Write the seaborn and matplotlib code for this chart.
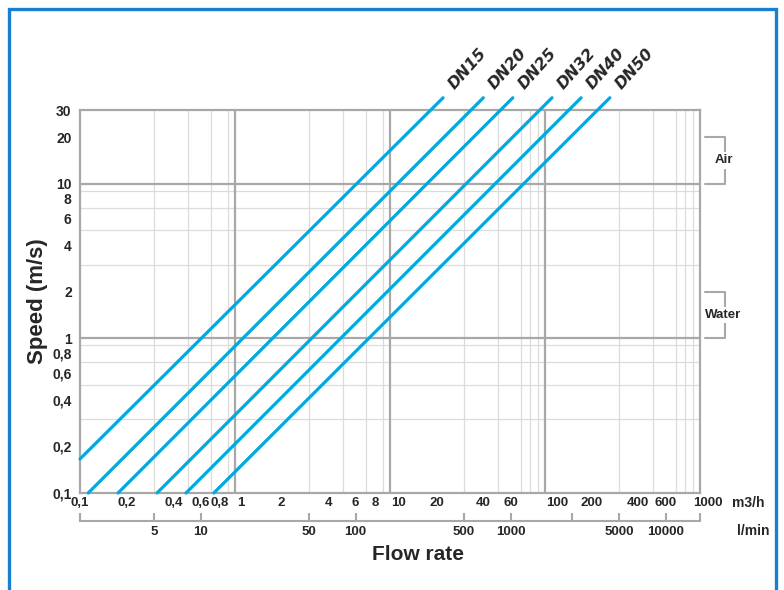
import numpy as np
import pandas as pd
import seaborn as sns
import matplotlib.pyplot as plt
import matplotlib.transforms as mtransforms
from matplotlib.ticker import LogLocator, NullFormatter, NullLocator
from matplotlib.patches import Rectangle

# pipe lines (start at left/bottom edge, end above the frame)
pipes = ['DN15', 'DN20', 'DN25', 'DN32', 'DN40', 'DN50']
flow_start = [0.1, 0.113, 0.176, 0.314, 0.483, 0.73]
flow_end = [22, 40, 62, 111, 171, 262]
speed_start = [0.166, 0.1, 0.1, 0.1, 0.1, 0.1]
speed_end = [36, 36, 36, 36, 36, 36]

x_ticks = [0.1, 0.2, 0.4, 0.6, 0.8, 1, 2, 4, 6, 8, 10, 20, 40, 60, 100, 200, 400, 600, 1000]
x_labels = ['0,1', '0,2', '0,4', '0,6', '0,8', '1', '2', '4', '6', '8', '10', '20', '40', '60',
            '100', '200', '400', '600', '1000']
y_ticks = [0.1, 0.2, 0.4, 0.6, 0.8, 1, 2, 4, 6, 8, 10, 20, 30]
y_labels = ['0,1', '0,2', '0,4', '0,6', '0,8', '1', '2', '4', '6', '8', '10', '20', '30']
lmin_ticks = [5, 10, 50, 100, 500, 1000, 2500, 5000, 10000]
lmin_labels = ['5', '10', '50', '100', '500', '1000', '', '5000', '10000']

ranges = ['Air', 'Water']
range_low = [10, 1]
range_high = [20, 2]

rows = []
for i, p in enumerate(pipes):
    rows.append((p, flow_start[i], speed_start[i]))
    rows.append((p, flow_end[i], speed_end[i]))
df = pd.DataFrame(rows, columns=['pipe', 'flow', 'speed'])

sns.set_style('white')
plt.rcParams['font.family'] = ['Liberation Sans', 'DejaVu Sans']
plt.rcParams['font.weight'] = 'bold'
plt.rcParams['axes.labelweight'] = 'bold'

grey = '#a8a8a8'
blue = '#00a9e0'

fig = plt.figure(figsize=(7.84, 5.90), dpi=100)
ax = fig.add_axes([80 / 784, 97 / 590, 620 / 784, 383 / 590])

sns.lineplot(data=df, x='flow', y='speed', hue='pipe', palette=[blue] * len(pipes),
             estimator=None, sort=False, linewidth=2.3, legend=False, ax=ax,
             clip_on=False, zorder=3)

ax.set_xscale('log')
ax.set_yscale('log')

# light grid on every 1..9 step, darker lines on decades
for axis in (ax.xaxis, ax.yaxis):
    axis.set_minor_locator(LogLocator(base=10, subs=np.arange(1, 10), numticks=30))
    axis.set_minor_formatter(NullFormatter())
ax.grid(which='minor', color='#dcdcdc', linewidth=0.9)
ax.grid(which='major', visible=False)
for d in [1, 10, 100]:
    ax.axvline(d, color=grey, linewidth=1.6, zorder=1)
for d in [1, 10]:
    ax.axhline(d, color=grey, linewidth=1.6, zorder=1)

ax.set_xticks(x_ticks, x_labels)
ax.set_yticks(y_ticks, y_labels)
ax.tick_params(axis='x', which='both', length=0, pad=3, labelsize=9.5)
ax.tick_params(axis='y', which='both', length=0, pad=6, labelsize=10)

# decade labels sit just right of the dark gridline
shift = {'1': 6, '10': 9, '100': 12, '1000': 8}
for lbl in ax.get_xticklabels():
    if lbl.get_text() in shift:
        off = mtransforms.ScaledTranslation(shift[lbl.get_text()] / 100, 0, fig.dpi_scale_trans)
        lbl.set_transform(lbl.get_transform() + off)

for s in ax.spines.values():
    s.set_color(grey)
    s.set_linewidth(1.6)

for i, p in enumerate(pipes):
    ax.annotate(p, (flow_end[i], speed_end[i]), xytext=(10, 4), textcoords='offset points',
                rotation=48, rotation_mode='anchor', ha='left', va='bottom',
                family='DejaVu Sans', fontstyle='italic', fontweight='bold',
                fontsize=11.5, annotation_clip=False)

# Air / Water brackets on the right
trans = mtransforms.blended_transform_factory(ax.transAxes, ax.transData)
for name, lo, hi in zip(ranges, range_low, range_high):
    ax.plot([1.008, 1.040, 1.040, 1.008], [hi, hi, lo, lo], transform=trans,
            clip_on=False, color=grey, linewidth=1.5)
    ax.text(1.038, np.sqrt(lo * hi), name, transform=trans, ha='center', va='center',
            fontsize=9.5, fontweight='bold', bbox=dict(fc='white', ec='none', pad=1.5))

ax.set_xlim(0.1, 1000)
ax.set_ylim(0.1, 30)

# second flow scale in l/min
sec = ax.secondary_xaxis(-0.072, functions=(lambda q: q * 1000 / 60, lambda l: l * 60 / 1000))
ends = [v * 1000 / 60 for v in ax.get_xlim()]
sec.set_xticks([ends[0]] + lmin_ticks + [ends[1]], [''] + lmin_labels + [''])
sec.xaxis.set_minor_locator(NullLocator())
sec.tick_params(direction='in', length=6, width=1.5, color=grey, labelsize=9.5, pad=4)
for s in sec.spines.values():
    s.set_color(grey)
    s.set_linewidth(1.5)

ax.set_ylabel('Speed (m/s)', fontsize=16, fontweight='bold')
ax.yaxis.set_label_coords(-0.052, 0.5)
ax.set_xlabel('Flow rate', fontsize=15, fontweight='bold')
ax.xaxis.set_label_coords(0.545, -0.135)

fig.text(732 / 784, 1 - 503 / 590, 'm3/h', ha='left', va='center', fontsize=10, fontweight='bold')
fig.text(737 / 784, 1 - 531 / 590, 'l/min', ha='left', va='center', fontsize=10, fontweight='bold')

fig.patches.append(Rectangle((9 / 784, -0.1), 767 / 784, 1.1 - 8.5 / 590,
                             transform=fig.transFigure, fill=False,
                             edgecolor='#1b7fcf', linewidth=2.4, clip_on=False))

fig.savefig('out.png', dpi=100)
